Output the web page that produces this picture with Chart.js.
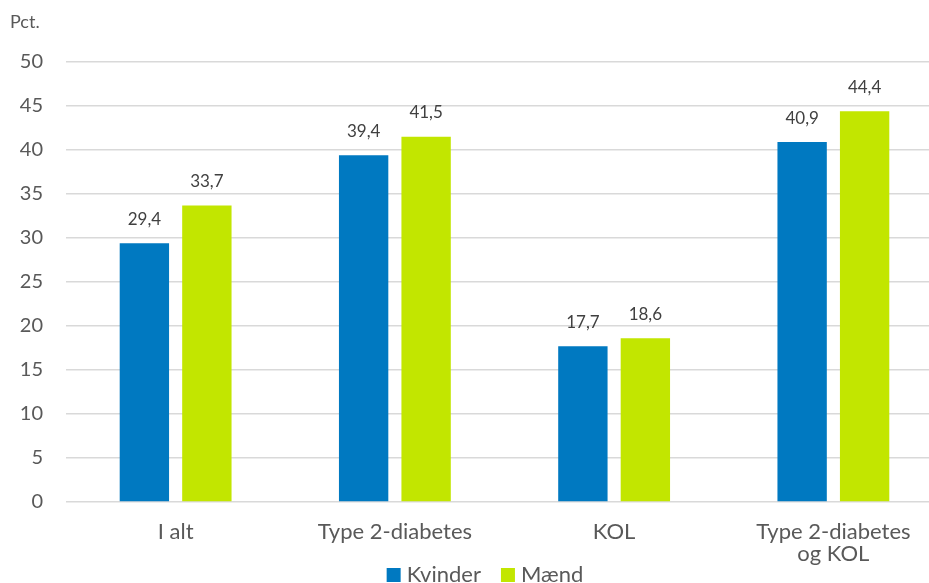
<!DOCTYPE html>
<html>
<head>
<meta charset="utf-8">
<script src="https://cdn.jsdelivr.net/npm/chart.js@4"></script>
<style>
  html, body { margin: 0; padding: 0; background: #fff; overflow: hidden; }
  #wrap { width: 945px; height: 583px; }
</style>
</head>
<body>
<div id="wrap"><canvas id="chart"></canvas></div>
<script>
const categories = ["I alt", "Type 2-diabetes", "KOL", ["Type 2-diabetes", "og KOL"]];
const kvinder = [29.4, 39.4, 17.7, 40.9];
const maend = [33.7, 41.5, 18.6, 44.4];
const yTicks = [0, 5, 10, 15, 20, 25, 30, 35, 40, 45, 50];

const FONT = "Lato, 'Open Sans', sans-serif";
const TEXT = "#595959";

// values above the bars, written with a decimal comma
const valueLabels = {
    id: "valueLabels",
    afterDatasetsDraw(chart) {
        const ctx = chart.ctx;
        ctx.save();
        ctx.font = "17px " + FONT;
        ctx.fillStyle = "#404040";
        ctx.textAlign = "center";
        ctx.textBaseline = "middle";
        chart.data.datasets.forEach((ds, i) => {
            chart.getDatasetMeta(i).data.forEach((bar, j) => {
                ctx.fillText(ds.data[j].toFixed(1).replace(".", ","), bar.x, bar.y - 24);
            });
        });
        ctx.restore();
    }
};

// unit text in the top-left corner
const unitLabel = {
    id: "unitLabel",
    afterDraw(chart) {
        const ctx = chart.ctx;
        ctx.save();
        ctx.font = "18px " + FONT;
        ctx.fillStyle = TEXT;
        ctx.textBaseline = "middle";
        ctx.fillText("Pct.", 10, 22);
        ctx.restore();
    }
};

// compact legend under the axis labels: small square, short gap, name
const bottomLegend = {
    id: "bottomLegend",
    afterDraw(chart) {
        const ctx = chart.ctx;
        const box = 14, gap = 6, spacing = 20, y = 575, centerX = 485;
        ctx.save();
        ctx.font = "22px " + FONT;
        ctx.textBaseline = "middle";
        const items = chart.data.datasets.map(ds => ({
            text: ds.label,
            color: ds.backgroundColor,
            w: box + gap + ctx.measureText(ds.label).width
        }));
        const total = items.reduce((s, it) => s + it.w, 0) + spacing * (items.length - 1);
        let x = centerX - total / 2;
        items.forEach(it => {
            ctx.fillStyle = it.color;
            ctx.fillRect(x, y - box / 2, box, box);
            ctx.fillStyle = TEXT;
            ctx.fillText(it.text, x + box + gap, y);
            x += it.w + spacing;
        });
        ctx.restore();
    }
};

new Chart(document.getElementById("chart"), {
    type: "bar",
    data: {
        labels: categories,
        datasets: [
            { label: "Kvinder", data: kvinder, backgroundColor: "#0079c1" },
            { label: "Mænd", data: maend, backgroundColor: "#c2e600" }
        ]
    },
    options: {
        responsive: true,
        maintainAspectRatio: false,
        animation: false,
        categoryPercentage: 0.57,
        barPercentage: 0.79,
        layout: { padding: { top: 62, right: 2, left: 0, bottom: 17 } },
        plugins: {
            legend: { display: false },
            tooltip: { enabled: false }
        },
        scales: {
            x: {
                grid: { display: false, drawTicks: false },
                border: { display: false },
                afterFit(scale) { scale.height = 64; },
                ticks: { font: { family: FONT, size: 22, lineHeight: 1.0 }, color: TEXT, padding: 19, maxRotation: 0 }
            },
            y: {
                min: 0,
                max: 50,
                afterBuildTicks(scale) { scale.ticks = yTicks.map(v => ({ value: v })); },
                afterFit(scale) { scale.width = 66; },
                grid: { color: "#d9d9d9", lineWidth: 1.5, drawTicks: false },
                border: { display: false },
                ticks: { font: { family: FONT, size: 20 }, color: TEXT, padding: 23 }
            }
        }
    },
    plugins: [valueLabels, unitLabel, bottomLegend]
});
</script>
</body>
</html>
